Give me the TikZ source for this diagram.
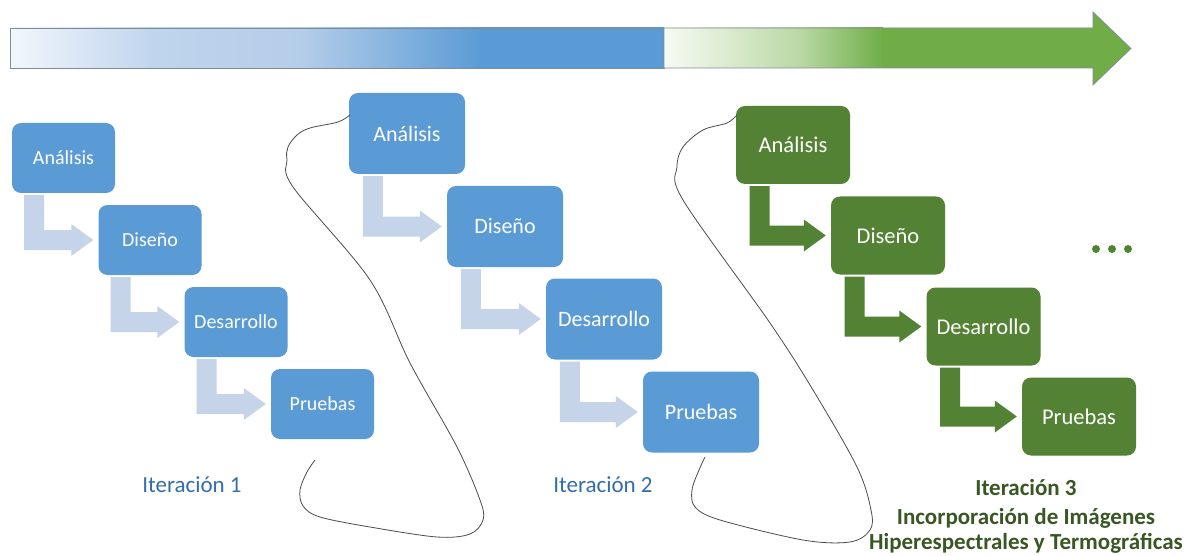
\documentclass[tikz,border=0pt]{standalone}
\usepackage{fontspec}
\setmainfont{Carlito}
\usetikzlibrary{calc}
\definecolor{boxblue}{RGB}{91,155,213}
\definecolor{boxgreen}{RGB}{84,130,53}
\definecolor{lightarrow}{RGB}{197,212,233}
\definecolor{labelblue}{RGB}{52,110,170}
\definecolor{labelgreen}{RGB}{56,87,35}
\definecolor{loopgray}{RGB}{75,75,80}
\definecolor{barline}{RGB}{130,140,150}
\definecolor{bA}{RGB}{242,247,252}
\definecolor{bB}{RGB}{192,213,237}
\definecolor{bC}{RGB}{180,205,233}
\definecolor{gA}{RGB}{248,251,244}
\definecolor{gB}{RGB}{185,216,164}
\definecolor{arrgreen}{RGB}{112,173,71}
\tikzset{
  stage/.style={rounded corners=9pt, inner sep=0pt, text=white, align=center},
  stA/.style={stage, fill=boxblue, minimum width=103pt, minimum height=70pt, font=\fontsize{20}{23}\selectfont},
  stB/.style={stage, fill=boxblue, minimum width=116pt, minimum height=81pt, font=\fontsize{22}{26}\selectfont},
  stC/.style={stage, fill=boxgreen, minimum width=114pt, minimum height=78pt, font=\fontsize{22.5}{26}\selectfont},
  loopline/.style={draw=loopgray, line width=0.8pt},
  iterlabel/.style={text=labelblue, inner sep=0pt, anchor=base, font=\fontsize{23}{27}\selectfont},
  iterbold/.style={text=labelgreen, inner sep=0pt, anchor=base, font=\fontsize{23}{27}\selectfont\bfseries},
  bar/.style={draw=barline, line width=0.7pt},
}
\newcommand{\Lconn}[3]{%
  \fill[#3] let \p1=(#1.south west), \p2=(#1.south east), \p3=(#2.west) in
   ({\x1+0.12*(\x2-\x1)}, {\y1-2pt}) -- ({\x1+0.12*(\x2-\x1)+20pt}, {\y1-2pt})
   -- ({\x1+0.12*(\x2-\x1)+20pt}, {\y3+10pt}) -- ({\x3-27pt}, {\y3+10pt})
   -- ({\x3-27pt}, {\y3+16pt}) -- ({\x3-5pt}, {\y3}) -- ({\x3-27pt}, {\y3-16pt})
   -- ({\x3-27pt}, {\y3-10pt}) -- ({\x1+0.12*(\x2-\x1)}, {\y3-10pt}) -- cycle;}
\begin{document}
\begin{tikzpicture}[x=1pt, y=-1pt]
\useasboundingbox (0,0) rectangle (1185,556);
\fill[white] (0,0) rectangle (1185,556);

% top timeline bar
\begin{scope}
\clip (10,28) rectangle (664,68);
\shade[left color=bA, right color=bB] (9,27) rectangle (151,69);
\shade[left color=bB, right color=bC] (150,27) rectangle (301,69);
\shade[left color=bC, right color=boxblue] (300,27) rectangle (481,69);
\fill[boxblue] (480,27) rectangle (665,69);
\end{scope}
\draw[bar] (10,28) rectangle (664,68);
\begin{scope}
\clip (664,28) rectangle (883,68);
\shade[left color=gA, right color=gB] (663,27) rectangle (801,69);
\shade[left color=gB, right color=arrgreen] (800,27) rectangle (883,69);
\end{scope}
\fill[arrgreen] (882,28) -- (1093,28) -- (1093,12) -- (1131,48.5) -- (1093,85) -- (1093,68) -- (882,68) -- cycle;
\draw[bar] (664,28) -- (1093,28) -- (1093,12) -- (1131,48.5) -- (1093,85) -- (1093,68) -- (664,68) -- cycle;

% iteration 1
\node[stA] (a1) at (63.5,158) {Análisis};
\node[stA] (d1) at (150,240) {Diseño};
\node[stA] (r1) at (236,322) {Desarrollo};
\node[stA] (p1) at (322.5,404) {Pruebas};
\Lconn{a1}{d1}{lightarrow}
\Lconn{d1}{r1}{lightarrow}
\Lconn{r1}{p1}{lightarrow}
\node[iterlabel] (it1) at (192,492) {Iteración 1};

% iteration 2
\node[stB] (a2) at (407,133.5) {Análisis};
\node[stB] (d2) at (505,226.5) {Diseño};
\node[stB] (r2) at (604,319) {Desarrollo};
\node[stB] (p2) at (701,412) {Pruebas};
\Lconn{a2}{d2}{lightarrow}
\Lconn{d2}{r2}{lightarrow}
\Lconn{r2}{p2}{lightarrow}
\node[iterlabel] (it2) at (603,492) {Iteración 2};

% iteration 3
\node[stC] (a3) at (793,145) {Análisis};
\node[stC] (d3) at (888,235.5) {Diseño};
\node[stC] (r3) at (983.5,326.5) {Desarrollo};
\node[stC] (p3) at (1079,416.5) {Pruebas};
\Lconn{a3}{d3}{boxgreen}
\Lconn{d3}{r3}{boxgreen}
\Lconn{r3}{p3}{boxgreen}
\node[iterbold] (it3a) at (1026,495) {Iteración 3};
\node[iterbold] (it3b) at (1026,524) {Incorporación de Imágenes};
\node[iterbold] (it3c) at (1026,549) {Hiperespectrales y Termográficas};

% ellipsis
\fill[boxgreen] (1096,249) circle (4pt) (1112,249) circle (4pt) (1128,249) circle (4pt);

% loops between iterations
\draw[loopline] plot[smooth, tension=0.55] coordinates {(350,115) (338,122) (310,128) (297,135) (288,147) (287,160) (293,187) (370,280) (410,363) (457,447) (480,500) (483,520) (470,534) (437,537) (370,527) (320,517) (303,506) (300,490) (307,472) (315,460)};
\draw[loopline] plot[smooth, tension=0.55] coordinates {(737,115) (727,123) (703,130) (683,147) (677,167) (683,200) (770,323) (813,390) (857,467) (871,510) (870,530) (850,542) (803,540) (720,520) (695,507) (692,490) (699,470) (705,457)};
\end{tikzpicture}
\end{document}
